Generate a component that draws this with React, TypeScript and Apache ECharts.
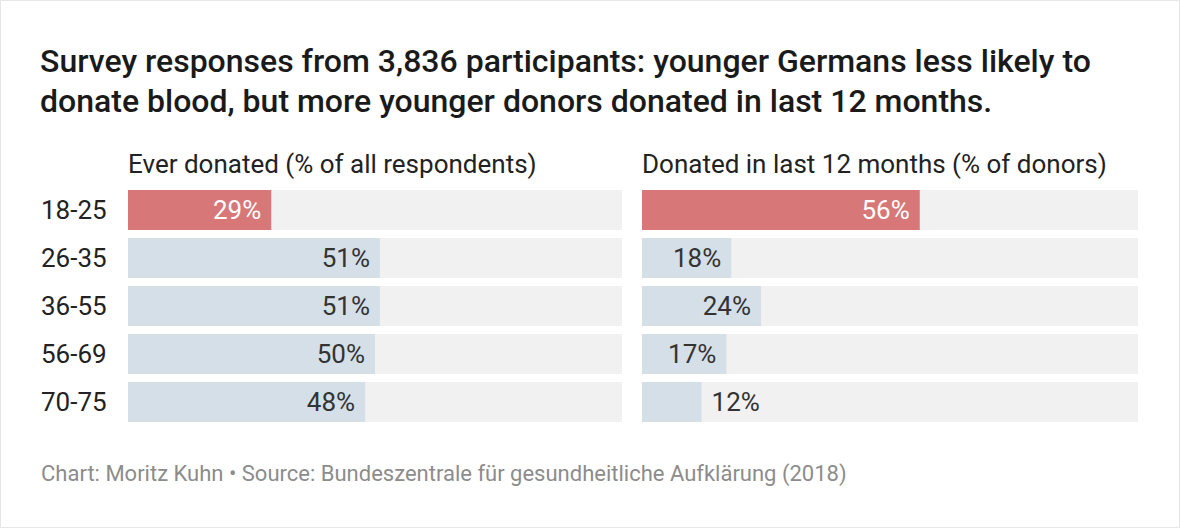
import React, { useEffect, useRef } from "react";
import * as echarts from "echarts";

const categories = ["18-25", "26-35", "36-55", "56-69", "70-75"];
const everDonated = [29, 51, 51, 50, 48];
const donatedLast12 = [56, 18, 24, 17, 12];
const highlightIndex = 0;

const titleLines = [
  "Survey responses from 3,836 participants: younger Germans less likely to",
  "donate blood, but more younger donors donated in last 12 months.",
];
const panelTitles = ["Ever donated (% of all respondents)", "Donated in last 12 months (% of donors)"];
const footer = "Chart: Moritz Kuhn • Source: Bundeszentrale für gesundheitliche Aufklärung (2018)";

const RED = "#d87777";
const BLUE = "#d5dfe7";
const BG = "#f1f1f1";
const FONT = "Roboto";

function buildData(values: number[]) {
  return values.map((v, i) => {
    const hi = i === highlightIndex;
    const outside = v < 15;
    return {
      value: v,
      itemStyle: { color: hi ? RED : BLUE },
      label: {
        show: true,
        position: outside ? "right" : "insideRight",
        distance: 10,
        color: hi ? "#ffffff" : "#333333",
        fontSize: 26,
        fontFamily: FONT,
        formatter: "{c}%",
      },
    };
  });
}

export default function App() {
  const ref = useRef<HTMLDivElement>(null);
  useEffect(() => {
    if (!ref.current) return;
    const chart = echarts.init(ref.current, undefined, { renderer: "svg" });
    const grids = [
      { left: 128, width: 494, top: 186, height: 240 },
      { left: 642, width: 496, top: 186, height: 240 },
    ];
    chart.setOption({
      animation: false,
      backgroundColor: "#ffffff",
      textStyle: { fontFamily: FONT },
      grid: grids,
      xAxis: grids.map((_, i) => ({
        type: "value",
        gridIndex: i,
        min: 0,
        max: 100,
        show: false,
      })),
      yAxis: grids.map((_, i) => ({
        type: "category",
        gridIndex: i,
        data: categories,
        inverse: true,
        axisLine: { show: false },
        axisTick: { show: false },
        splitLine: { show: false },
        axisLabel: {
          show: i === 0,
          align: "left",
          margin: 87,
          fontSize: 26,
          color: "#222222",
          fontFamily: FONT,
        },
      })),
      series: [everDonated, donatedLast12].map((vals, i) => ({
        type: "bar",
        xAxisIndex: i,
        yAxisIndex: i,
        barWidth: 40,
        showBackground: true,
        backgroundStyle: { color: BG },
        data: buildData(vals),
      })),
      graphic: [
        {
          type: "rect",
          shape: { x: 0.5, y: 0.5, width: 1179, height: 527 },
          style: { fill: "none", stroke: "#e6e6e6", lineWidth: 1 },
          silent: true,
        },
        ...titleLines.map((t, i) => ({
          type: "text",
          x: 40,
          y: 61 + i * 40,
          style: {
            text: t,
            fontSize: 32,
            fontWeight: 500,
            fontFamily: FONT,
            fill: "#1a1a1a",
            verticalAlign: "middle",
            align: "left",
          },
        })),
        ...panelTitles.map((t, i) => ({
          type: "text",
          x: grids[i].left,
          y: 164,
          style: {
            text: t,
            fontSize: 26,
            fontFamily: FONT,
            fill: "#222222",
            verticalAlign: "middle",
            align: "left",
          },
        })),
        {
          type: "text",
          x: 41,
          y: 473,
          style: {
            text: footer,
            fontSize: 22,
            fontFamily: FONT,
            fill: "#8c8c8c",
            verticalAlign: "middle",
            align: "left",
          },
        },
      ],
    });
    return () => chart.dispose();
  }, []);
  return (
    <div
      ref={ref}
      style={{ position: "fixed", left: 0, top: 0, width: 1180, height: 528 }}
    />
  );
}
